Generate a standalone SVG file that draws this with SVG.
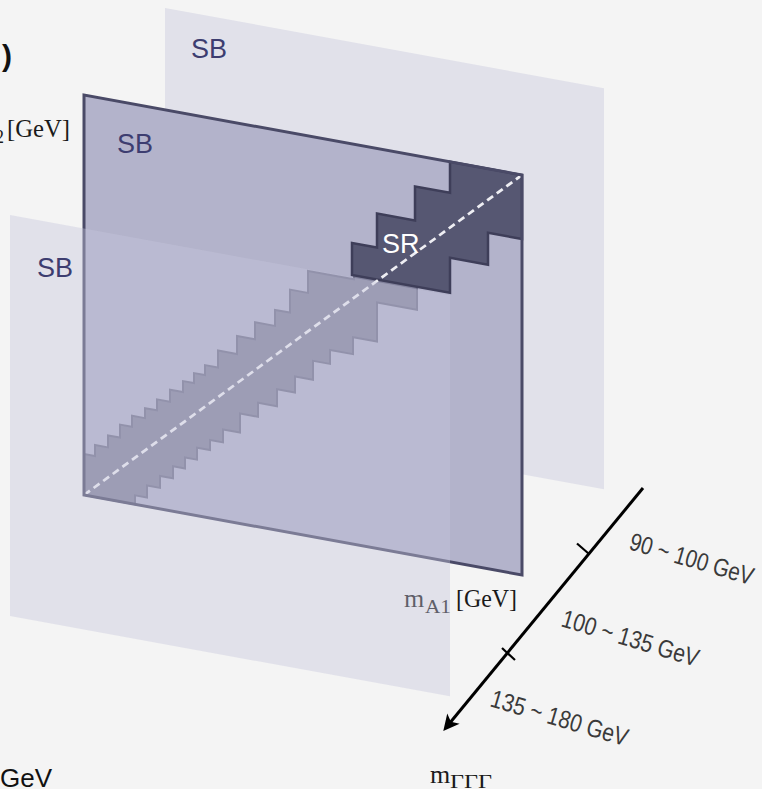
<svg xmlns="http://www.w3.org/2000/svg" width="762" height="789" viewBox="0 0 762 789">
<defs>
<style>
.sb{font-family:"Liberation Sans",Arial,sans-serif;font-size:27px;fill:#3d3d70}
.sr{font-family:"Liberation Sans",Arial,sans-serif;font-size:27px;fill:#ffffff}
.serif{font-family:"Liberation Serif","Times New Roman",serif;fill:#1a1a1a}
.rng{font-family:"Liberation Sans",Arial,sans-serif;font-size:25px;fill:#3a3a3a}
.band{fill:#82829c;stroke:#71718b;stroke-width:2;stroke-linejoin:miter}
.srreg{fill:#565772;stroke:#3e3e59;stroke-width:2.5}
.diag{stroke:#eeeef3;stroke-width:2.5;stroke-dasharray:8 5;fill:none}
.axis{stroke:#000;stroke-width:3;fill:none}
.tick{stroke:#000;stroke-width:2.2;fill:none}
</style>
<marker id="arrowhead" markerUnits="userSpaceOnUse" markerWidth="30" markerHeight="30" refX="0" refY="0" orient="auto" overflow="visible">
<path d="M9,0 L-7,-8 L-3,0 L-7,8 Z" fill="#000"/>
</marker>
</defs>
<rect x="0" y="0" width="762" height="789" fill="#f4f4f4"/>

<g id="panel-back">
<rect x="0" y="0" width="439" height="401" fill="#e1e1ea" transform="translate(165,8) skewY(10.35)"/>
<text class="sb" x="191" y="58">SB</text>
</g>

<g id="panel-mid">
<g transform="translate(84,95) skewY(10.35)">
<rect x="0" y="0" width="438" height="400" fill="#b3b3cb"/>
<polygon class="band" points="0,359 11,359 11,348 24,348 24,336 36,336 36,323 48,323 48,312 61,312 61,302 73,302 73,291 86,291 86,279 99,279 99,268 110,268 110,258 121,258 121,248 134,248 134,231 153,231 153,213 171,213 171,196 191,196 191,180 206,180 206,157 224,157 224,135 270,135 270,128 333,128 333,154 293,154 293,193 269,193 269,210 246,210 246,224 229,224 229,243 211,243 211,259 193,259 193,276 174,276 174,290 156,290 156,309 139,309 139,322 126,322 126,332 113,332 113,344 101,344 101,355 89,355 89,367 76,367 76,379 63,379 63,391 51,391 51,400 0,400"/>
<polygon class="srreg" points="366,0 366,31 331,31 331,65 293,65 293,99 268,99 268,131 366,131 366,96 404,96 404,64 438,64 438,0"/>
<line class="diag" x1="0" y1="400" x2="438" y2="0"/>
<rect x="0" y="0" width="438" height="400" fill="none" stroke="#4a4a67" stroke-width="3"/>
</g>
<text class="sb" x="117" y="153">SB</text>
<text class="sr" x="382" y="253">SR</text>
</g>

<g id="label-mA1">
<text class="serif" x="404" y="607" font-size="26">m</text>
<text class="serif" x="425" y="613" font-size="18" textLength="26" lengthAdjust="spacingAndGlyphs">A1</text>
<text class="serif" x="456" y="607" font-size="25" textLength="61" lengthAdjust="spacingAndGlyphs">[GeV]</text>
</g>

<g id="panel-front">
<rect x="0" y="0" width="440" height="401" fill="#c6c6dc" fill-opacity="0.4" transform="translate(10,215) skewY(10.35)"/>
<text class="sb" x="37" y="277">SB</text>
</g>

<g id="label-mA2">
<text class="serif" x="-5" y="143" font-size="18">2</text>
<text class="serif" x="7" y="137" font-size="25" textLength="63" lengthAdjust="spacingAndGlyphs">[GeV]</text>
</g>

<g id="title-fragment">
<text x="2" y="66" font-family="Liberation Sans, Arial, sans-serif" font-size="30" font-weight="bold" fill="#111">)</text>
</g>

<g id="label-bottom-left">
<text x="0" y="787" font-family="Liberation Sans, Arial, sans-serif" font-size="26" fill="#111">GeV</text>
</g>

<g id="connectors">
<line class="axis" x1="643" y1="488" x2="449" y2="724" marker-end="url(#arrowhead)"/>
<line class="tick" x1="588.5" y1="553.5" x2="577" y2="543.5"/>
<line class="tick" x1="515" y1="660" x2="502" y2="648"/>
</g>

<g id="range-labels">
<text class="rng" transform="translate(628,549) rotate(16.4)" textLength="128" lengthAdjust="spacingAndGlyphs">90 ~ 100 GeV</text>
<text class="rng" transform="translate(560,626) rotate(16.7)" textLength="142" lengthAdjust="spacingAndGlyphs">100 ~ 135 GeV</text>
<text class="rng" transform="translate(489,706) rotate(16.5)" textLength="142" lengthAdjust="spacingAndGlyphs">135 ~ 180 GeV</text>
</g>

<g id="label-mGGG">
<text class="serif" x="430" y="783" font-size="26">m</text>
<text class="serif" x="450" y="788" font-size="18" textLength="42" lengthAdjust="spacingAndGlyphs">ΓΓΓ</text>
</g>
</svg>
